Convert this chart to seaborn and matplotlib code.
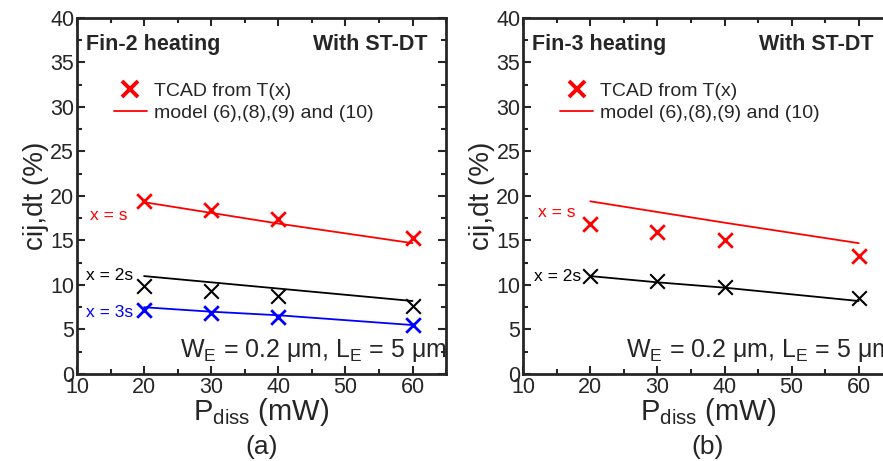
import pandas as pd
import matplotlib
matplotlib.use("Agg")
import matplotlib.pyplot as plt
from matplotlib.lines import Line2D
from matplotlib.ticker import MultipleLocator
import seaborn as sns

# =====================================================
# DATA
# =====================================================
p_diss = [20, 30, 40, 60]

# panel (a): Fin-2 heating
a_tcad_s = [19.4, 18.4, 17.4, 15.3]
a_model_s = [19.3, 18.1, 16.9, 14.7]
a_tcad_2s = [9.9, 9.3, 8.8, 7.6]
a_model_2s = [11.0, 10.3, 9.6, 8.2]
a_tcad_3s = [7.2, 6.8, 6.4, 5.5]
a_model_3s = [7.5, 7.0, 6.6, 5.5]

# panel (b): Fin-3 heating
b_tcad_s = [16.8, 16.0, 15.1, 13.3]
b_model_s = [19.4, 18.2, 17.0, 14.7]
b_tcad_2s = [11.0, 10.4, 9.8, 8.5]
b_model_2s = [11.0, 10.3, 9.7, 8.2]

# =====================================================
# STYLE
# =====================================================
sns.set_style("ticks")
plt.rcParams["font.family"] = ["Liberation Sans", "DejaVu Sans"]
plt.rcParams["mathtext.fontset"] = "custom"
plt.rcParams["mathtext.rm"] = "Liberation Sans"
plt.rcParams["mathtext.it"] = "Liberation Sans"

fig = plt.figure(figsize=(8.83, 4.61), dpi=100)
ax_a = fig.add_axes([0.0872, 0.1887, 0.418, 0.7724])
ax_b = fig.add_axes([0.5925, 0.1887, 0.418, 0.7724])


def draw_series(ax, tcad, model, color, mew=2.0):
    sns.lineplot(x=p_diss, y=model, ax=ax, color=color, linewidth=1.3)
    sns.scatterplot(x=p_diss, y=tcad, ax=ax, color=color, marker="x",
                    s=110, linewidth=mew, zorder=5)


def style_axes(ax, title, panel):
    ax.set_xlim(10, 65)
    ax.set_ylim(0, 40)
    ax.xaxis.set_major_locator(MultipleLocator(10))
    ax.xaxis.set_minor_locator(MultipleLocator(5))
    ax.yaxis.set_major_locator(MultipleLocator(5))
    ax.yaxis.set_minor_locator(MultipleLocator(2.5))
    ax.tick_params(which="both", direction="in", top=True, right=True,
                   width=1.5, labelsize=15.5)
    ax.tick_params(axis="x", pad=2)
    ax.tick_params(axis="y", pad=2)
    ax.tick_params(which="major", length=6)
    ax.tick_params(which="minor", length=3.5)
    for sp in ax.spines.values():
        sp.set_linewidth(2)
        sp.set_visible(True)
    ax.set_xlabel(r"P$_{\rm diss}$ (mW)", fontsize=21, labelpad=-1)
    ax.set_ylabel("cij,dt (%)", fontsize=20, labelpad=1)
    ax.text(0.024, 0.925, title, transform=ax.transAxes, fontsize=15.5,
            fontweight="bold", ha="left", va="center")
    ax.text(0.95, 0.925, "With ST-DT", transform=ax.transAxes, fontsize=15.5,
            fontweight="bold", ha="right", va="center")
    ax.text(25.3, 2.6, r"W$_{\rm E}$ = 0.2 $\mu$m, L$_{\rm E}$ = 5 $\mu$m",
            fontsize=18, ha="left", va="center", clip_on=False)
    handles = [
        Line2D([], [], color="red", marker="x", linestyle="none",
               markersize=12, markeredgewidth=2.8),
        Line2D([], [], color="red", linewidth=1.3),
    ]
    ax.legend(handles, ["TCAD from T(x)", "model (6),(8),(9) and (10)"],
              loc="upper left", bbox_to_anchor=(0.1, 0.82), frameon=False,
              fontsize=14, handlelength=1.7, handletextpad=0.35,
              labelspacing=0.25, borderpad=0, borderaxespad=0)
    ax.text(0.5, -0.205, panel, transform=ax.transAxes, fontsize=19,
            ha="center", va="center")


# =====================================================
# PANEL (a)
# =====================================================
draw_series(ax_a, a_tcad_s, a_model_s, "red")
draw_series(ax_a, a_tcad_2s, a_model_2s, "black", mew=1.5)
draw_series(ax_a, a_tcad_3s, a_model_3s, "blue")
style_axes(ax_a, "Fin-2 heating", "(a)")
ax_a.text(11.9, 17.8, "x = s", color="red", fontsize=12.5, va="center")
ax_a.text(11.4, 11.1, "x = 2s", color="black", fontsize=12.5, va="center")
ax_a.text(11.3, 6.9, "x = 3s", color="blue", fontsize=12.5, va="center")

# =====================================================
# PANEL (b)
# =====================================================
draw_series(ax_b, b_tcad_s, b_model_s, "red")
draw_series(ax_b, b_tcad_2s, b_model_2s, "black", mew=1.5)
style_axes(ax_b, "Fin-3 heating", "(b)")
ax_b.text(12.2, 18.1, "x = s", color="red", fontsize=12.5, va="center")
ax_b.text(11.6, 10.9, "x = 2s", color="black", fontsize=12.5, va="center")

fig.savefig("out.png", dpi=100)
